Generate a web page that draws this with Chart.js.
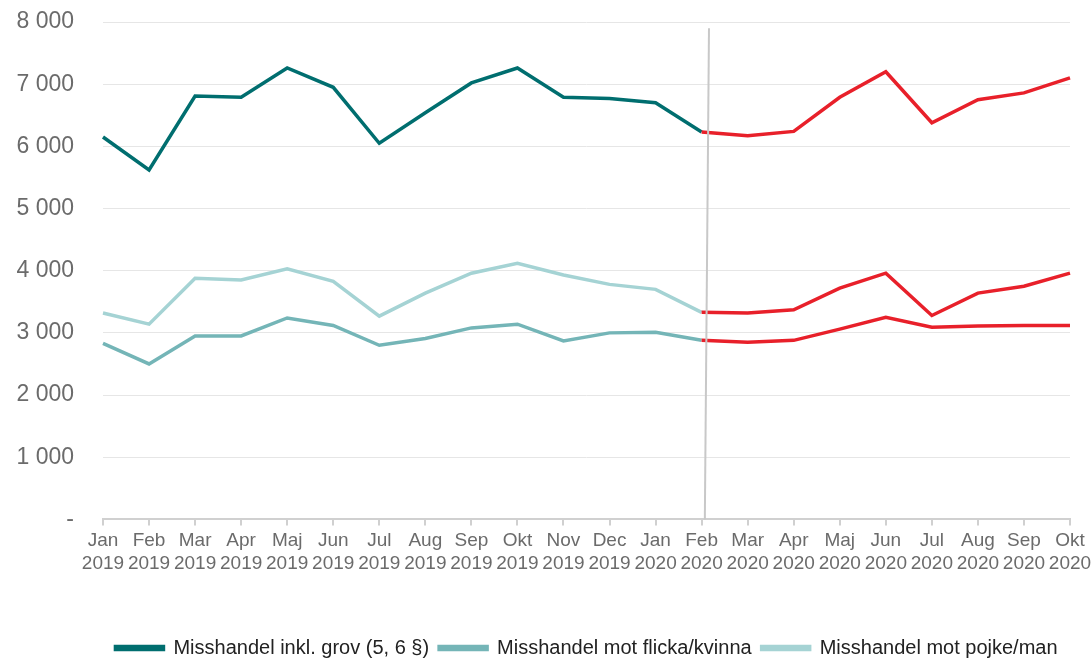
<!DOCTYPE html>
<html>
<head>
<meta charset="utf-8">
<script src="https://cdn.jsdelivr.net/npm/chart.js@4.4.0/dist/chart.umd.min.js"></script>
<style>
  body { margin: 0; background: #fff; }
  #wrap { width: 1091px; height: 659px; }
</style>
</head>
<body>
<div id="wrap"><canvas id="lineChart"></canvas></div>
<script>
const MONTHS = [
  ["Jan", "2019"], ["Feb", "2019"], ["Mar", "2019"], ["Apr", "2019"], ["Maj", "2019"], ["Jun", "2019"],
  ["Jul", "2019"], ["Aug", "2019"], ["Sep", "2019"], ["Okt", "2019"], ["Nov", "2019"], ["Dec", "2019"],
  ["Jan", "2020"], ["Feb", "2020"], ["Mar", "2020"], ["Apr", "2020"], ["Maj", "2020"], ["Jun", "2020"],
  ["Jul", "2020"], ["Aug", "2020"], ["Sep", "2020"], ["Okt", "2020"]
];
const misshandelTotal = [6150, 5620, 6810, 6790, 7260, 6950, 6050, 6540, 7020, 7260, 6790, 6770,
                         6700, 6230, 6170, 6240, 6790, 7200, 6380, 6750, 6860, 7100];
const misshandelFlicka = [2830, 2500, 2950, 2950, 3240, 3120, 2800, 2910, 3080, 3140, 2870, 3000,
                          3010, 2880, 2850, 2880, 3060, 3250, 3090, 3110, 3120, 3120];
const misshandelPojke = [3320, 3140, 3880, 3850, 4030, 3830, 3270, 3640, 3960, 4120, 3930, 3780,
                         3700, 3330, 3320, 3370, 3720, 3960, 3280, 3640, 3750, 3960];
const yTicks = [0, 1000, 2000, 3000, 4000, 5000, 6000, 7000, 8000];
const BREAK_INDEX = 13; // Feb 2020, from here the lines are red

const RED = "#e8202a";
const textColor = "#6b6b6b";
const FONT = "Liberation Sans, Arial, sans-serif";

function series(label, data, color) {
  return {
    label: label,
    data: data,
    borderColor: color,
    backgroundColor: color,
    borderWidth: 3.5,
    pointRadius: 0,
    tension: 0,
    segment: {
      borderColor: ctx => ctx.p0DataIndex >= BREAK_INDEX ? RED : color
    }
  };
}

// grey vertical marker at Feb 2020
const markerLine = {
  id: "markerLine",
  afterDatasetsDraw(chart) {
    const x = chart.scales.x, y = chart.scales.y;
    const c = chart.ctx;
    c.save();
    c.strokeStyle = "#c8c8c8";
    c.lineWidth = 2;
    c.beginPath();
    c.moveTo(x.getPixelForValue(BREAK_INDEX + 0.16), y.getPixelForValue(7900));
    c.lineTo(x.getPixelForValue(BREAK_INDEX + 0.07), y.getPixelForValue(0));
    c.stroke();
    c.restore();
  }
};

const CHART = document.getElementById("lineChart");

let lineChart = new Chart(CHART, {
  type: "line",
  data: {
    labels: MONTHS,
    datasets: [
      series("Misshandel inkl. grov (5, 6 §)", misshandelTotal, "#006e6f"),
      series("Misshandel mot flicka/kvinna", misshandelFlicka, "#74b5b7"),
      series("Misshandel mot pojke/man", misshandelPojke, "#a5d3d4")
    ]
  },
  options: {
    responsive: true,
    maintainAspectRatio: false,
    animation: false,
    layout: { padding: { top: 0, left: 15, right: 0, bottom: -9 } },
    scales: {
      x: {
        offset: false,
        border: { color: "#d0d0d0", width: 2 },
        grid: { drawOnChartArea: false, color: "#d0d0d0", tickLength: 6, lineWidth: 2 },
        ticks: {
          color: textColor,
          font: { family: FONT, size: 19 },
          maxRotation: 0,
          autoSkip: false,
          padding: 4
        },
        afterFit(scale) {
          scale.height += 49;
          scale.paddingRight = 21;
          scale.paddingLeft = 0;
        }
      },
      y: {
        min: 0,
        max: 8000,
        border: { display: false },
        grid: { color: "#e6e6e6", drawTicks: false },
        afterBuildTicks(scale) { scale.ticks = yTicks.map(v => ({ value: v })); },
        afterFit(scale) {
          scale.width = 88;
          scale.paddingTop = 22;
          scale.paddingBottom = 0;
        },
        ticks: {
          color: textColor,
          font: { family: FONT, size: 23 },
          padding: 29,
          callback: v => v === 0 ? "-" : String(v).replace(/\B(?=(\d{3})+(?!\d))/g, " ")
        }
      }
    },
    plugins: {
      legend: {
        position: "bottom",
        fullSize: false,
        labels: {
          color: "#222",
          boxWidth: 48,
          boxHeight: 3,
          padding: 10,
          font: { family: FONT, size: 20 }
        }
      },
      tooltip: { enabled: false }
    }
  },
  plugins: [markerLine]
});
</script>
</body>
</html>
